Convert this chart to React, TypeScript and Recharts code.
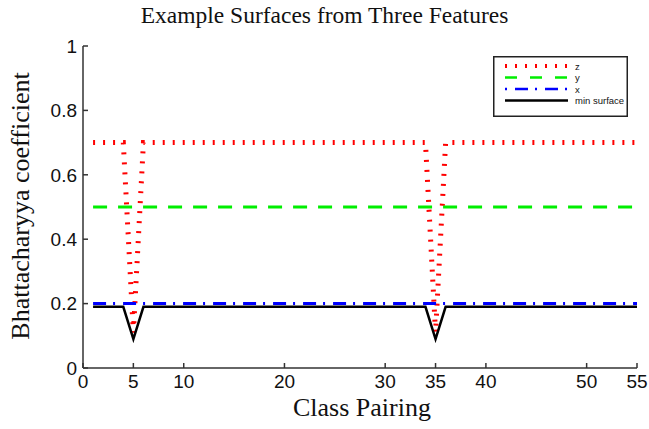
import React from "react";
import { LineChart, Line, XAxis, YAxis } from "recharts";

// class pairing index where each surface changes
const pairing = [1, 4, 5, 6, 34, 35, 36, 55];
const zSurface = [0.7, 0.7, 0.11, 0.7, 0.7, 0.11, 0.7, 0.7];
const ySurface = [0.5, 0.5, 0.5, 0.5, 0.5, 0.5, 0.5, 0.5];
const xSurface = [0.2, 0.2, 0.2, 0.2, 0.2, 0.2, 0.2, 0.2];
const minSurface = [0.19, 0.19, 0.09, 0.19, 0.19, 0.09, 0.19, 0.19];

const xTicks = [0, 5, 10, 20, 30, 35, 40, 50, 55];
const yTicks = [0, 0.2, 0.4, 0.6, 0.8, 1];

const series = [
  { key: "z", name: "z", color: "#ff0000", dash: "2 8", width: 5, legDash: "2 8", legWidth: 4 },
  { key: "y", name: "y", color: "#00ee00", dash: "14 11", width: 3, legDash: "12 13", legWidth: 2.5 },
  { key: "x", name: "x", color: "#0000ff", dash: "13 7 2 8", width: 3, legDash: "2 8 13 7", legWidth: 2.5 },
  { key: "min", name: "min surface", color: "#000000", dash: undefined, width: 2.5, legDash: undefined, legWidth: 2.5 },
];

const data = pairing.map((p, i) => ({
  pair: p,
  z: zSurface[i],
  y: ySurface[i],
  x: xSurface[i],
  min: minSurface[i],
}));

const sans = "Liberation Sans, Arial, sans-serif";
const serif = "Liberation Serif, Times New Roman, serif";
const tickFont = { fontFamily: sans, fontSize: 19, fill: "#111" };
const axisStroke = { stroke: "#333", strokeWidth: 1.5 };
const fmtY = (v: number) => (v === 0 || v === 1 ? String(v) : v.toFixed(1));

function LegendBox() {
  return (
    <svg width={135} height={61} style={{ display: "block" }}>
      <rect x={0.75} y={0.75} width={133.5} height={59.5} fill="#fff" stroke="#222" strokeWidth={1.5} />
      {series.map((s, i) => {
        const cy = 10 + i * 11.5;
        return (
          <g key={s.key}>
            <line x1={12} x2={75} y1={cy} y2={cy} stroke={s.color} strokeWidth={s.legWidth} strokeDasharray={s.legDash} />
            <text x={82} y={cy + 3.5} fontSize={9.5} fontFamily={sans} fill="#111">
              {s.name}
            </text>
          </g>
        );
      })}
    </svg>
  );
}

export default function App() {
  return (
    <div style={{ position: "absolute", left: 0, top: 0, width: 649, height: 429, background: "#fff" }}>
      <div
        style={{
          position: "absolute",
          left: 0,
          width: 649,
          top: 2,
          textAlign: "center",
          fontFamily: serif,
          fontSize: 23.5,
          color: "#111",
        }}
      >
        Example Surfaces from Three Features
      </div>
      <div style={{ position: "absolute", left: 21, top: 206, width: 0, height: 0 }}>
        <div
          style={{
            position: "absolute",
            transform: "translate(-50%, -50%) rotate(-90deg)",
            left: 0,
            top: 0,
            whiteSpace: "nowrap",
            fontFamily: serif,
            fontSize: 26,
            color: "#111",
          }}
        >
          Bhattacharyya coefficient
        </div>
      </div>
      <div
        style={{
          position: "absolute",
          left: 83,
          width: 558,
          top: 393,
          textAlign: "center",
          fontFamily: serif,
          fontSize: 26,
          color: "#111",
        }}
      >
        Class Pairing
      </div>
      <div style={{ position: "absolute", left: 0, top: 0 }}>
        <LineChart width={649} height={429} data={data} margin={{ top: 46, right: 12, bottom: 0, left: 0 }}>
          <XAxis
            dataKey="pair"
            type="number"
            domain={[0, 55]}
            ticks={xTicks}
            interval={0}
            height={61}
            axisLine={axisStroke}
            tickLine={axisStroke}
            tickSize={-5}
            tickMargin={12}
            tick={tickFont}
          />
          <XAxis
            xAxisId="top"
            dataKey="pair"
            type="number"
            orientation="top"
            domain={[0, 55]}
            ticks={xTicks}
            interval={0}
            height={0}
            axisLine={axisStroke}
            tickLine={axisStroke}
            tickSize={-5}
            tick={false}
          />
          <YAxis
            type="number"
            domain={[0, 1]}
            ticks={yTicks}
            interval={0}
            width={83}
            axisLine={axisStroke}
            tickLine={axisStroke}
            tickSize={-5}
            tickMargin={11}
            tick={tickFont}
            tickFormatter={fmtY}
          />
          <YAxis
            yAxisId="right"
            type="number"
            orientation="right"
            domain={[0, 1]}
            ticks={yTicks}
            interval={0}
            width={0}
            axisLine={axisStroke}
            tickLine={axisStroke}
            tickSize={-5}
            tick={false}
          />
          {series.map((s) => (
            <Line
              key={s.key}
              dataKey={s.key}
              name={s.name}
              type="linear"
              stroke={s.color}
              strokeWidth={s.width}
              strokeDasharray={s.dash}
              strokeLinejoin="miter"
              dot={false}
              activeDot={false}
              isAnimationActive={false}
            />
          ))}
        </LineChart>
      </div>
      <div style={{ position: "absolute", left: 493, top: 56 }}>
        <LegendBox />
      </div>
    </div>
  );
}
